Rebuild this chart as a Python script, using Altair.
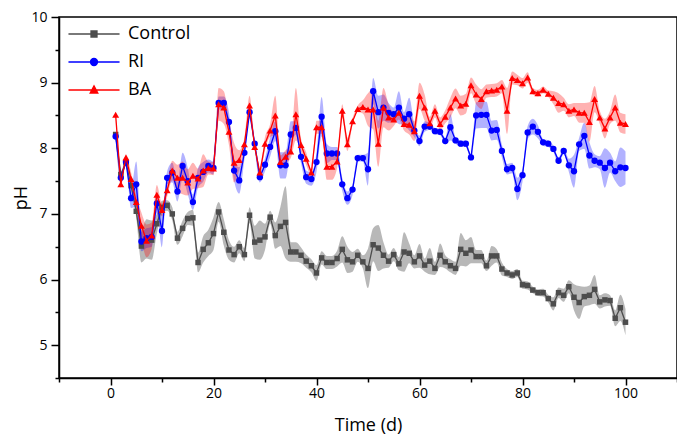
import altair as alt
import pandas as pd

days = list(range(1, 101))

control = [8.21, 7.60, 7.78, 7.43, 7.04, 6.51, 6.62, 6.60, 6.85, 7.10,
           7.13, 7.00, 6.63, 6.78, 6.93, 6.94, 6.26, 6.46, 6.56, 6.70,
           7.03, 6.72, 6.45, 6.38, 6.50, 6.38, 6.98, 6.57, 6.60, 6.65,
           6.95, 6.67, 6.81, 6.87, 6.42, 6.42, 6.37, 6.28, 6.21, 6.10,
           6.33, 6.26, 6.26, 6.32, 6.46, 6.30, 6.27, 6.37, 6.27, 6.17,
           6.53, 6.48, 6.37, 6.28, 6.38, 6.24, 6.42, 6.40, 6.27, 6.36,
           6.22, 6.28, 6.17, 6.37, 6.27, 6.21, 6.17, 6.46, 6.40, 6.45,
           6.35, 6.35, 6.21, 6.36, 6.36, 6.16, 6.10, 6.07, 6.10, 5.92,
           5.91, 5.84, 5.80, 5.80, 5.71, 5.63, 5.80, 5.76, 5.89, 5.73,
           5.65, 5.74, 5.76, 5.85, 5.66, 5.69, 5.68, 5.41, 5.57, 5.35]
control_err = [0.05, 0.05, 0.05, 0.05, 0.10, 0.25, 0.30, 0.30, 0.15, 0.10,
               0.08, 0.10, 0.10, 0.12, 0.10, 0.12, 0.15, 0.20, 0.20, 0.25,
               0.15, 0.20, 0.15, 0.12, 0.10, 0.10, 0.12, 0.25, 0.30, 0.20,
               0.10, 0.20, 0.30, 0.55, 0.15, 0.15, 0.12, 0.10, 0.10, 0.12,
               0.10, 0.10, 0.10, 0.12, 0.20, 0.20, 0.15, 0.10, 0.10, 0.30,
               0.25, 0.35, 0.20, 0.10, 0.10, 0.10, 0.30, 0.15, 0.10, 0.18,
               0.10, 0.20, 0.10, 0.18, 0.10, 0.10, 0.10, 0.25, 0.20, 0.20,
               0.10, 0.10, 0.08, 0.15, 0.10, 0.10, 0.06, 0.06, 0.06, 0.06,
               0.06, 0.05, 0.05, 0.06, 0.06, 0.10, 0.08, 0.10, 0.10, 0.20,
               0.25, 0.15, 0.15, 0.22, 0.10, 0.10, 0.08, 0.12, 0.20, 0.20]

ri = [8.18, 7.55, 7.79, 7.24, 7.45, 6.58, 6.63, 6.65, 7.16, 6.74,
      7.55, 7.63, 7.34, 7.73, 7.50, 7.18, 7.55, 7.64, 7.73, 7.70,
      8.69, 8.69, 8.40, 7.66, 7.51, 7.93, 8.55, 8.07, 7.56, 7.75,
      8.02, 8.26, 7.74, 7.74, 8.21, 8.31, 7.87, 7.56, 7.53, 7.79,
      8.48, 7.92, 7.92, 7.92, 7.45, 7.24, 7.37, 7.85, 7.85, 7.68,
      8.87, 8.55, 8.62, 8.54, 8.52, 8.62, 8.45, 8.52, 8.27, 8.11,
      8.33, 8.33, 8.26, 8.25, 8.11, 8.32, 8.12, 8.07, 8.07, 7.86,
      8.50, 8.51, 8.51, 8.27, 8.28, 7.96, 7.68, 7.70, 7.38, 7.59,
      8.24, 8.33, 8.25, 8.09, 8.07, 7.99, 7.81, 7.96, 7.74, 7.65,
      8.06, 8.19, 7.89, 7.81, 7.78, 7.70, 7.78, 7.65, 7.71, 7.70]
ri_err = [0.05, 0.05, 0.05, 0.15, 0.35, 0.15, 0.15, 0.15, 0.15, 0.25,
          0.10, 0.15, 0.15, 0.20, 0.20, 0.12, 0.15, 0.15, 0.10, 0.10,
          0.10, 0.10, 0.15, 0.15, 0.20, 0.10, 0.10, 0.08, 0.08, 0.10,
          0.15, 0.15, 0.20, 0.20, 0.20, 0.10, 0.10, 0.10, 0.10, 0.15,
          0.30, 0.15, 0.10, 0.10, 0.10, 0.10, 0.08, 0.05, 0.05, 0.25,
          0.20, 0.25, 0.20, 0.15, 0.10, 0.25, 0.10, 0.25, 0.10, 0.08,
          0.08, 0.05, 0.05, 0.05, 0.05, 0.20, 0.05, 0.05, 0.05, 0.05,
          0.20, 0.20, 0.20, 0.15, 0.15, 0.10, 0.08, 0.08, 0.17, 0.10,
          0.10, 0.12, 0.10, 0.05, 0.05, 0.05, 0.05, 0.05, 0.10, 0.25,
          0.10, 0.20, 0.20, 0.10, 0.10, 0.30, 0.15, 0.15, 0.30, 0.25]

ba = [8.51, 7.45, 7.86, 7.53, 7.18, 6.82, 6.59, 6.67, 7.29, 7.06,
      7.36, 7.66, 7.55, 7.55, 7.48, 7.58, 7.54, 7.66, 7.70, 7.69,
      8.67, 8.62, 8.25, 7.78, 7.82, 8.06, 8.65, 8.02, 7.63, 8.07,
      8.27, 8.50, 7.79, 7.87, 7.95, 8.52, 8.05, 7.84, 7.63, 8.32,
      8.32, 7.72, 7.72, 7.80, 8.57, 8.06, 8.41, 8.60, 8.63, 8.59,
      8.59, 8.07, 8.62, 8.47, 8.44, 8.54, 8.37, 8.36, 8.26, 8.80,
      8.62, 8.38, 8.57, 8.37, 8.48, 8.62, 8.76, 8.65, 8.68, 8.96,
      8.82, 8.75, 8.87, 8.88, 8.89, 8.94, 8.57, 9.07, 9.04, 8.99,
      9.08, 8.87, 8.84, 8.89, 8.83, 8.77, 8.69, 8.67, 8.57, 8.59,
      8.54, 8.54, 8.40, 8.75, 8.47, 8.30, 8.47, 8.62, 8.39, 8.37]
ba_err = [0.05, 0.05, 0.05, 0.10, 0.10, 0.20, 0.25, 0.20, 0.15, 0.10,
          0.10, 0.15, 0.20, 0.25, 0.20, 0.20, 0.15, 0.25, 0.10, 0.10,
          0.25, 0.25, 0.20, 0.30, 0.15, 0.10, 0.15, 0.05, 0.05, 0.10,
          0.10, 0.30, 0.10, 0.10, 0.10, 0.40, 0.10, 0.10, 0.05, 0.10,
          0.10, 0.20, 0.20, 0.10, 0.10, 0.10, 0.05, 0.05, 0.10, 0.25,
          0.30, 0.35, 0.30, 0.20, 0.10, 0.10, 0.10, 0.15, 0.15, 0.20,
          0.20, 0.10, 0.10, 0.10, 0.10, 0.15, 0.15, 0.15, 0.15, 0.12,
          0.15, 0.15, 0.10, 0.10, 0.10, 0.10, 0.35, 0.10, 0.08, 0.08,
          0.08, 0.05, 0.05, 0.05, 0.05, 0.10, 0.15, 0.10, 0.10, 0.10,
          0.15, 0.15, 0.30, 0.20, 0.10, 0.15, 0.10, 0.20, 0.15, 0.15]

series_names = ["Control", "RI", "BA"]
series_values = [control, ri, ba]
series_errs = [control_err, ri_err, ba_err]
line_colors = ["#4d4d4d", "#0000FF", "#FF0000"]
band_opacity = [0.4, 0.3, 0.3]
marker_shapes = ["square", "circle", "triangle-up"]
marker_sizes = [30, 40, 48]

x_ticks = list(range(-10, 111, 10))
y_ticks = [4.5, 5, 5.5, 6, 6.5, 7, 7.5, 8, 8.5, 9, 9.5, 10]

# legend symbols: line segment with marker (unit = sqrt(size)/2 px)
legend_paths = [
    "M-4,0H4M-0.47,-0.47H0.47V0.47H-0.47Z",
    "M-4,0H4M-0.55,0A0.55,0.55,0,1,1,0.55,0A0.55,0.55,0,1,1,-0.55,0Z",
    "M-4,0H4M0,-0.66L0.6,0.48L-0.6,0.48Z",
]

rows = []
for name, vals, errs in zip(series_names, series_values, series_errs):
    for d, v, e in zip(days, vals, errs):
        rows.append({"series": name, "day": d, "value": v,
                     "lo": round(v - e, 3), "hi": round(v + e, 3)})
df = pd.DataFrame(rows)

FONT = "Open Sans"

x_axis = alt.Axis(
    values=x_ticks,
    format="d",
    labelExpr="datum.value % 20 === 0 ? datum.label : ''",
    tickSize={"condition": {"test": "datum.value % 20 === 0", "value": 7}, "value": 4},
    labelPadding=1,
    titlePadding=16,
)
y_axis = alt.Axis(
    values=y_ticks,
    labelExpr="datum.value % 1 === 0 ? '' + datum.value : ''",
    tickSize={"condition": {"test": "datum.value % 1 === 0", "value": 8}, "value": 4},
    labelPadding=4,
    titlePadding=0,
)
x_scale = alt.Scale(domain=[-10, 110], nice=False, zero=False)
y_scale = alt.Scale(domain=[4.5, 10], nice=False, zero=False)

x_enc = alt.X("day:Q", title="Time (d)", scale=x_scale, axis=x_axis)


def y_enc(field):
    return alt.Y(field, title="pH", scale=y_scale, axis=y_axis)


base = alt.Chart(df)
layers = []
for name, col, op in zip(series_names, line_colors, band_opacity):
    layers.append(
        base.transform_filter(alt.datum.series == name)
        .mark_area(interpolate="monotone", color=col, opacity=op)
        .encode(x=x_enc, y=y_enc("lo:Q"), y2="hi:Q")
    )
for name, col, shp, sz in zip(series_names, line_colors, marker_shapes, marker_sizes):
    sub = base.transform_filter(alt.datum.series == name)
    layers.append(sub.mark_line(color=col, strokeWidth=1.3).encode(x=x_enc, y=y_enc("value:Q")))
    layers.append(
        sub.mark_point(filled=True, shape=shp, size=sz, color=col, opacity=1)
        .encode(x=x_enc, y=y_enc("value:Q"))
    )

leg = alt.Legend(
    title=None, orient="none", legendX=26, legendY=8,
    labelFontSize=18, labelFont=FONT, labelColor="black",
    symbolSize=163, symbolStrokeWidth=1.3, labelOffset=25,
    rowPadding=10, padding=0, offset=0,
)
legend_layer = alt.Chart(alt.Data(values=[])).mark_point(filled=True, opacity=1).encode(
    fill=alt.Fill("series:N", scale=alt.Scale(domain=series_names, range=line_colors), legend=leg),
    stroke=alt.Stroke("series:N", scale=alt.Scale(domain=series_names, range=line_colors), legend=leg),
    shape=alt.Shape("series:N", scale=alt.Scale(domain=series_names, range=legend_paths), legend=leg),
)
layers.append(legend_layer)

chart = alt.layer(*layers).properties(
    width=618, height=361,
    autosize=alt.AutoSizeParams(type="none"),
    padding={"left": 51, "top": 9, "right": 0, "bottom": 56},
).configure_view(
    stroke="black", strokeWidth=1.5,
).configure_axis(
    grid=False,
    domainColor="black", domainWidth=1.5,
    tickColor="black", tickWidth=1.5,
    labelFont=FONT, labelFontSize=14, labelColor="black",
    titleFont=FONT, titleFontSize=18, titleFontWeight="normal", titleColor="black",
)

chart.save("out.html", embed_options={"renderer": "svg", "actions": False})
